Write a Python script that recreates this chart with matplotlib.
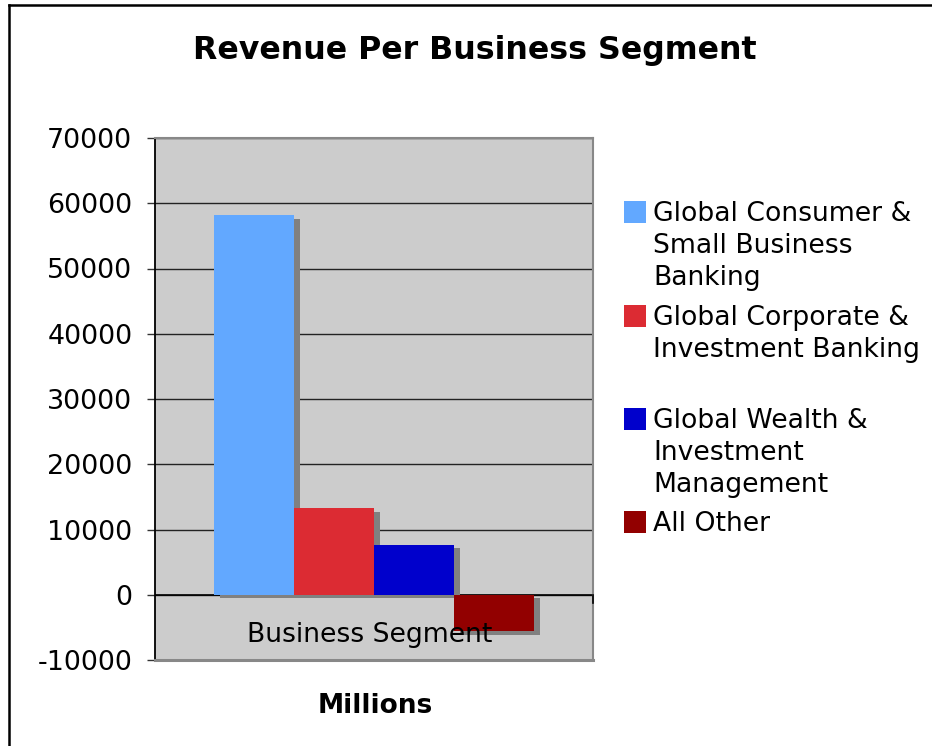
import matplotlib
matplotlib.use("Agg")
import matplotlib.pyplot as plt
import matplotlib.patheffects as pe
from matplotlib.patches import Rectangle
from matplotlib.lines import Line2D

# Revenue by segment (millions)
segments = [
    "Global Consumer &\nSmall Business\nBanking",
    "Global Corporate &\nInvestment Banking",
    "Global Wealth &\nInvestment\nManagement",
    "All Other",
]
revenue = [58200, 13300, 7650, -5600]
colors = ["#62A8FF", "#DC2B33", "#0000CC", "#920000"]
y_ticks = [-10000, 0, 10000, 20000, 30000, 40000, 50000, 60000, 70000]

W, H = 932, 746
fig = plt.figure(figsize=(W / 100, H / 100), dpi=100)
fig.patch.set_facecolor("white")

# outer frame (left and top edges visible)
fig.add_artist(Line2D([9 / W, 9 / W], [0, 1 - 5 / H], color="black", lw=1.8))
fig.add_artist(Line2D([9 / W, 1], [1 - 5 / H, 1 - 5 / H], color="black", lw=1.8))

left, right, top, bottom = 155, 593, 138, 660
ax = fig.add_axes([left / W, 1 - bottom / H, (right - left) / W, (bottom - top) / H])
ax.set_facecolor("#CCCCCC")
ax.set_xlim(-0.5, 0.5)
ax.set_ylim(-10000, 70000)
ax.set_yticks(y_ticks)
ax.set_yticklabels([str(v) for v in y_ticks])
ax.set_xticks([])
ax.tick_params(axis="y", length=5.8, width=1, color="#333333", pad=10.5,
               labelsize=19.4, labelcolor="black")
ax.yaxis.grid(True, color="#222222", lw=1.0)
ax.set_axisbelow(True)

for side in ["top", "right"]:
    ax.spines[side].set_color("#888888")
    ax.spines[side].set_linewidth(1.5)
ax.spines["bottom"].set_color("#888888")
ax.spines["bottom"].set_linewidth(2.2)
ax.spines["left"].set_color("black")
ax.spines["left"].set_linewidth(1.3)

bw = 80 / (right - left)
shadow = [pe.SimplePatchShadow(offset=(4.3, -2.6), shadow_rgbFace="#808080", alpha=1.0),
          pe.Normal()]
for i, (val, col) in enumerate(zip(revenue, colors)):
    x = (i - 1.5) * bw
    ax.bar(x, val, width=bw, color=col, zorder=3, path_effects=shadow)

ax.axhline(0, color="black", lw=1.2, zorder=2)
ax.plot([0.5, 0.5], [0, -1300], color="black", lw=1.2, clip_on=False, zorder=4)

ax.text(-0.01, -6200, "Business Segment", ha="center", va="center",
        fontsize=19.2, color="black", zorder=5)

fig.text(475 / W, 1 - 50 / H, "Revenue Per Business Segment", ha="center",
         va="center", fontsize=22.8, fontweight="bold")
fig.text(375 / W, 1 - 706 / H, "Millions", ha="center", va="center",
         fontsize=19, fontweight="bold")

# legend
entry_tops = [214, 318, 421, 524]
line_gap = 32
for name, col, ytop in zip(segments, colors, entry_tops):
    fig.add_artist(Rectangle((624 / W, 1 - (ytop + 9) / H), 22 / W, 22 / H,
                             transform=fig.transFigure, facecolor=col,
                             edgecolor="none"))
    for k, line in enumerate(name.split("\n")):
        fig.text(653 / W, 1 - (ytop + k * line_gap) / H, line, ha="left",
                 va="center", fontsize=19.2, color="black")

fig.savefig("out.png", dpi=100)
